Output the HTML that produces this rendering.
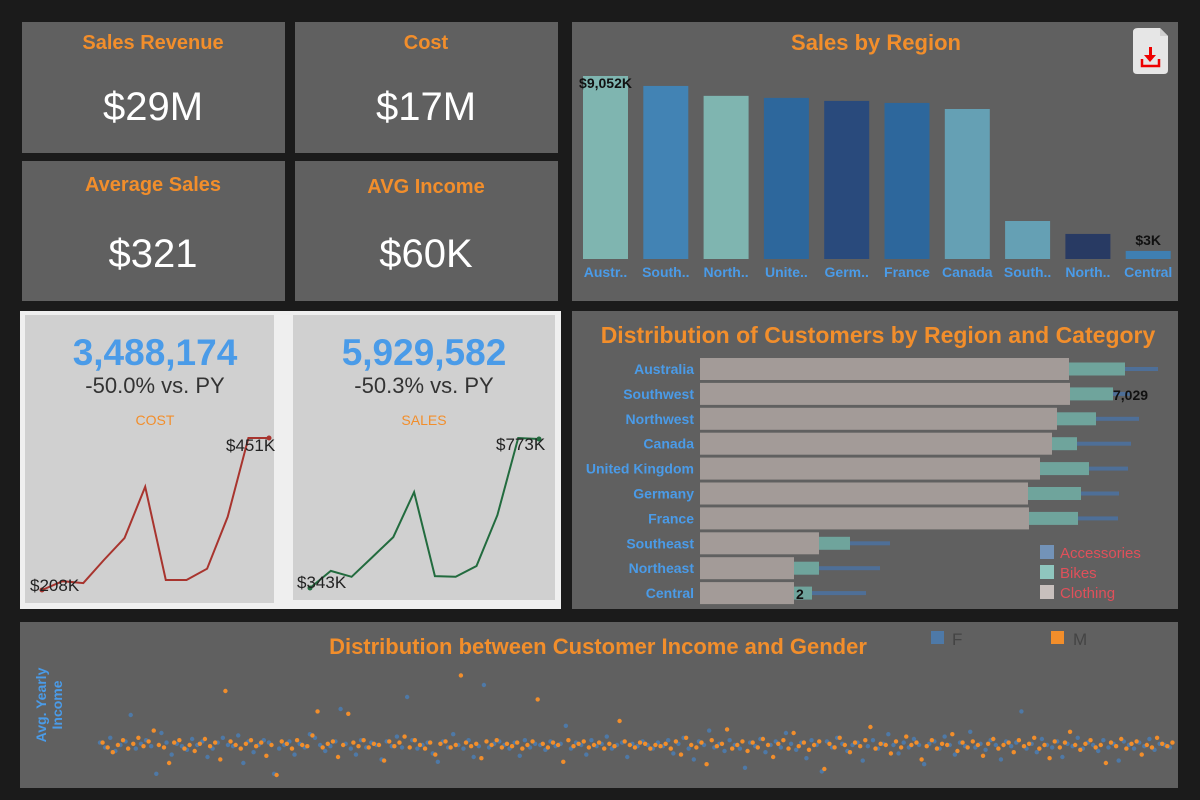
<!DOCTYPE html>
<html><head><meta charset="utf-8"><style>
html,body{margin:0;padding:0;background:#1b1b1b;}
svg{display:block;font-family:"Liberation Sans",sans-serif;}
</style></head><body>
<svg id="dash" width="1200" height="800" viewBox="0 0 1200 800" xmlns="http://www.w3.org/2000/svg">
<rect x="0" y="0" width="1200" height="800" fill="#1b1b1b"/>
<g>
<rect x="22" y="22" width="263" height="131" fill="#606060"/>
<text x="153" y="49" text-anchor="middle" font-size="20" font-weight="bold" fill="#f28e2b">Sales Revenue</text>
<text x="153" y="120" text-anchor="middle" font-size="40" fill="#fff">$29M</text></g>
<g>
<rect x="295" y="22" width="263" height="131" fill="#606060"/>
<text x="426" y="49" text-anchor="middle" font-size="20" font-weight="bold" fill="#f28e2b">Cost</text>
<text x="426" y="120" text-anchor="middle" font-size="40" fill="#fff">$17M</text></g>
<g>
<rect x="22" y="161" width="263" height="140" fill="#606060"/>
<text x="153" y="191" text-anchor="middle" font-size="20" font-weight="bold" fill="#f28e2b">Average Sales</text>
<text x="153" y="267" text-anchor="middle" font-size="40" fill="#fff">$321</text></g>
<g>
<rect x="295" y="161" width="263" height="140" fill="#606060"/>
<text x="426" y="193" text-anchor="middle" font-size="20" font-weight="bold" fill="#f28e2b">AVG Income</text>
<text x="426" y="267" text-anchor="middle" font-size="40" fill="#fff">$60K</text></g>

<g>
<rect x="572" y="22" width="606" height="279" fill="#606060"/>
<text x="876" y="50" text-anchor="middle" font-size="22" font-weight="bold" fill="#f28e2b">Sales by Region</text>
<g>
<path d="M1138 28 H1160 L1168 36 V70 Q1168 74 1164 74 H1137 Q1133 74 1133 70 V32 Q1133 28 1138 28Z" fill="#e6e6e6"/>
<path d="M1160 28 V36 H1168" fill="#cfcfcf"/>
<rect x="1149" y="47" width="3" height="10" fill="#e00"/>
<path d="M1144 55 L1156 55 L1150 62Z" fill="#e00"/>
<path d="M1142 59 V66 H1159 V59" fill="none" stroke="#e00" stroke-width="2.5"/>
</g>
<g id="regionBars"></g>
</g>

<rect x="20" y="311" width="541" height="298" fill="#efefef"/>
<g>
<rect x="25" y="315" width="249" height="288" fill="#d0d0d0"/>
<text x="155" y="365" text-anchor="middle" font-size="37" font-weight="bold" fill="#4a9be8">3,488,174</text>
<text x="155" y="393" text-anchor="middle" font-size="22" fill="#333">-50.0% vs. PY</text>
<text x="155" y="425" text-anchor="middle" font-size="14" fill="#f28e2b">COST</text>
<g id="costLine"></g>
<text x="30" y="591" font-size="17" fill="#222">$208K</text>
<text x="226" y="451" font-size="17" fill="#222">$451K</text>
</g>
<g>
<rect x="293" y="315" width="262" height="285" fill="#d0d0d0"/>
<text x="424" y="365" text-anchor="middle" font-size="37" font-weight="bold" fill="#4a9be8">5,929,582</text>
<text x="424" y="393" text-anchor="middle" font-size="22" fill="#333">-50.3% vs. PY</text>
<text x="424" y="425" text-anchor="middle" font-size="14" fill="#f28e2b">SALES</text>
<g id="salesLine"></g>
<text x="297" y="588" font-size="17" fill="#222">$343K</text>
<text x="496" y="450" font-size="17" fill="#222">$773K</text>
</g>

<g>
<rect x="572" y="311" width="606" height="298" fill="#606060"/>
<text x="878" y="343" text-anchor="middle" font-size="23" font-weight="bold" fill="#f28e2b">Distribution of Customers by Region and Category</text>
<g id="custBars"></g>
<g>
<rect x="1040" y="545" width="14" height="14" fill="#7393b8"/><text x="1060" y="558" font-size="15" fill="#e0505a">Accessories</text>
<rect x="1040" y="565" width="14" height="14" fill="#8fc6be"/><text x="1060" y="578" font-size="15" fill="#e0505a">Bikes</text>
<rect x="1040" y="585" width="14" height="14" fill="#c8c0bd"/><text x="1060" y="598" font-size="15" fill="#e0505a">Clothing</text>
</g>
</g>

<g>
<rect x="20" y="622" width="1158" height="166" fill="#606060"/>
<text x="598" y="654" text-anchor="middle" font-size="22" font-weight="bold" fill="#f28e2b">Distribution between Customer Income and Gender</text>
<g>
<rect x="931" y="631" width="13" height="13" fill="#4e79a7"/><text x="952" y="645" font-size="17" fill="#444">F</text>
<rect x="1051" y="631" width="13" height="13" fill="#f28e2b"/><text x="1073" y="645" font-size="17" fill="#444">M</text>
</g>
<text transform="translate(46,705) rotate(-90)" text-anchor="middle" font-size="14" font-weight="bold" fill="#4a9be8"><tspan x="0" y="0">Avg. Yearly</tspan><tspan x="0" y="16">Income</tspan></text>
<g id="scatter"></g>
</g>
</svg>
<script>
const NS="http://www.w3.org/2000/svg";
function mk(tag,attrs,parent){const e=document.createElementNS(NS,tag);for(const k in attrs)e.setAttribute(k,attrs[k]);parent.appendChild(e);return e;}

const regions=["Austr..","South..","North..","Unite..","Germ..","France","Canada","South..","North..","Central"];
const regionSales=[9052,8560,8070,7970,7820,7720,7420,1880,1240,400];
const regionColors=["#7fb5b0","#4283b4","#7fb5b0","#2d679c","#294a7c","#2d679c","#65a0b4","#65a0b4","#283a63","#3f7fb2"];
const regionLabels=["$9,052K","","","","","","","","","$3K"];
(function(){
 const g=document.getElementById('regionBars');
 const base=259, maxH=183, maxV=Math.max(...regionSales);
 const yS=v=>base-v/maxV*maxH;
 const xS=i=>583+i*60.3;
 regions.forEach((r,i)=>{
  const y=yS(regionSales[i]);
  const b=mk('rect',{x:xS(i),y:y,width:45,height:base-y,fill:regionColors[i]},g);
  
  
  const t=mk('text',{x:xS(i)+22.5,y:277,'text-anchor':'middle','font-size':14,'font-weight':'bold',fill:'#4a9be8'},g);
  t.textContent=r;
  
  
  if(regionLabels[i]){
   const l=mk('text',{x:xS(i)+22.5,y:y-6+(i==0?18:0),'text-anchor':'middle','font-size':14,'font-weight':'bold',fill:'#111'},g);
   l.textContent=regionLabels[i];
   
   
  }
 });
})();

const costValues=[208,222,219,256,291,373,224,224,242,325,451,451];
const salesValues=[343,392,375,432,489,618,377,375,406,552,773,770];
function spark(id,vals,x0,x1,yTop,yBot,color){
 const g=document.getElementById(id);
 const mn=Math.min(...vals),mx=Math.max(...vals);
 const xS=i=>x0+i*(x1-x0)/(vals.length-1);
 const yS=v=>yBot-(v-mn)/(mx-mn)*(yBot-yTop);
 const d=vals.map((v,i)=>(i?'L':'M')+xS(i).toFixed(1)+' '+yS(v).toFixed(1)).join(' ');
 const p=mk('path',{d:d,fill:'none',stroke:color,'stroke-width':2},g);
 
 
 const a=mk('circle',{cx:xS(0),cy:yS(vals[0]),r:2.5,fill:color},g);
 
 
 const b=mk('circle',{cx:xS(vals.length-1),cy:yS(vals[vals.length-1]),r:2.5,fill:color},g);
 
 
}
spark('costLine',costValues,42,269,438,590,'#a8342e');
spark('salesLine',salesValues,310,539,438,588,'#226b3e');

const custRegions=["Australia","Southwest","Northwest","Canada","United Kingdom","Germany","France","Southeast","Northeast","Central"];
const clothing=[7380,7400,7140,7040,6800,6560,6580,2380,1880,1880];
const bikes=[1120,860,780,500,980,1060,980,620,500,360];
const accessories=[660,340,860,1080,780,760,800,800,1220,1080];
const custLabels=["","7,029","","","","","","","","2"];
(function(){
 const g=document.getElementById('custBars');
 const x0=700,k=0.05;
 const yC=i=>369+i*24.9;
 custRegions.forEach((r,i)=>{
  const cy=yC(i);
  const t=mk('text',{x:694,y:cy+5,'text-anchor':'end','font-size':14,'font-weight':'bold',fill:'#4a9be8'},g);
  t.textContent=r;
  
  
  const cw=clothing[i]*k, bw=bikes[i]*k, aw=accessories[i]*k;
  const c=mk('rect',{x:x0,y:cy-11,width:cw,height:22,fill:'#a39b98'},g);
  
  
  const b=mk('rect',{x:x0+cw,y:cy-6.5,width:bw,height:13,fill:'#6fa49c'},g);
  
  
  const a=mk('rect',{x:x0+cw+bw,y:cy-2,width:aw,height:4,fill:'#4e6f98'},g);
  
  
  if(custLabels[i]){
   const l=mk('text',{x:i==1?x0+cw+bw:x0+cw+2,y:cy+6,'font-size':14,'font-weight':'bold',fill:'#111'},g);
   l.textContent=custLabels[i];
   
   
  }
 });
})();

const incomeF=[62,58,66,55,60,63,85,57,61,64,59,36,70,62,52,61,59,56,65,60,63,50,57,62,66,60,59,68,45,63,54,60,64,62,36,57,60,63,52,61,58,69,66,60,55,59,63,90,61,57,52,64,58,62,60,48,63,59,67,58,100,64,57,60,62,53,46,63,58,69,60,57,64,50,59,110,58,61,63,60,57,62,51,64,58,61,60,56,63,59,61,76,57,62,60,52,64,59,61,67,57,60,62,50,61,59,63,60,57,62,
 59,64,53,61,66,57,48,63,60,72,58,61,55,64,60,57,41,62,59,65,54,60,63,58,70,61,56,62,49,64,60,38,63,58,66,61,55,60,62,47,59,64,57,61,69,60,53,62,58,65,60,44,61,63,57,67,60,52,62,59,71,58,61,56,64,60,48,63,59,62,88,57,61,54,65,60,58,63,50,61,59,66,57,62,60,55,64,58,61,47,63,60,57,62,59,65,56,61,60,58];
const incomeM=[62,58,54,60,64,57,61,66,59,63,72,60,58,45,62,64,57,60,55,61,65,59,62,48,105,63,60,57,61,64,59,62,51,60,35,63,61,57,64,60,59,68,88,58,61,63,50,60,86,62,59,64,58,61,60,47,63,59,62,67,58,64,60,57,62,52,61,63,58,60,118,62,59,61,49,63,60,64,58,61,59,62,57,60,63,98,61,58,62,60,46,64,59,61,63,58,60,62,57,61,59,80,63,60,58,62,61,57,60,59,
 61,57,63,52,66,60,58,62,44,64,59,61,73,57,60,63,55,62,58,65,60,50,61,64,57,70,59,62,56,60,63,40,61,58,66,60,54,62,59,64,75,57,61,60,53,63,58,67,60,62,48,59,64,57,61,60,69,55,62,58,63,60,51,61,65,57,60,62,54,64,59,61,66,57,60,49,63,58,62,71,60,56,61,64,58,60,45,62,59,65,57,61,63,52,60,58,66,61,59,62];
(function(){
 const g=document.getElementById('scatter');
 const yS=v=>745-(v-60)*1.2;
 const draw=(arr,color,off,name)=>{
  const step=1075/arr.length;
  arr.forEach((v,i)=>{
   const c=mk('circle',{cx:100+i*step+off*step,cy:yS(v),r:2.2,fill:color},g);
   
   
  });
 };
 draw(incomeF,'#4e79a7',0,'female-point');
 draw(incomeM,'#f28e2b',0.5,'male-point');
})();
</script>
</body></html>
